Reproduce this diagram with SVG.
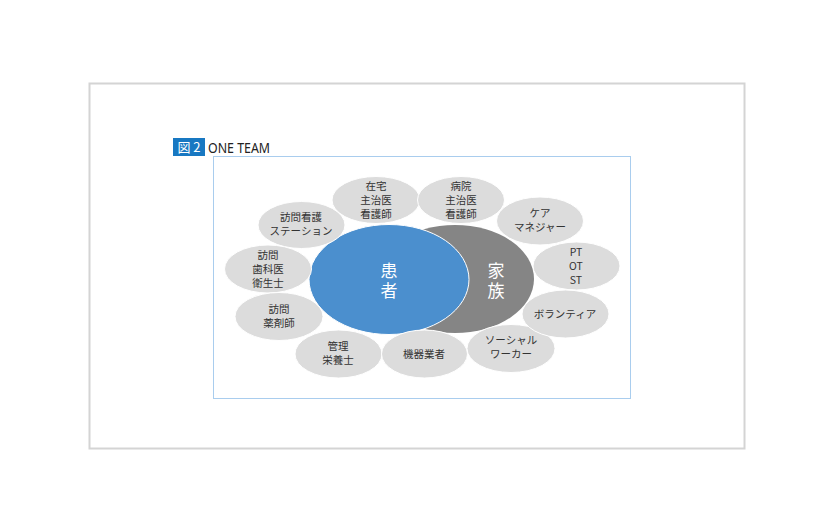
<svg xmlns="http://www.w3.org/2000/svg" width="834" height="532" viewBox="0 0 834 532">
<style>
.s{fill:#dcdcdc;stroke:#ffffff;stroke-width:1}
.t{font-family:"Noto Sans CJK JP","Noto Sans",sans-serif;font-size:10.5px;fill:#333333;text-anchor:middle}
.b{font-family:"Noto Sans CJK JP","Noto Sans",sans-serif;font-size:17px;fill:#ffffff;text-anchor:middle}
</style>
<rect x="0" y="0" width="834" height="532" fill="#ffffff"/>
<rect x="89.5" y="83.5" width="655" height="365" fill="#ffffff" stroke="#d4d4d4" stroke-width="2"/>
<g id="title">
<rect x="173" y="138" width="32" height="18" fill="#1878c2"/>
<text x="189" y="152" font-family="'Noto Sans CJK JP','Noto Sans',sans-serif" font-size="13" fill="#ffffff" text-anchor="middle">図 2</text>
<text x="208" y="152.5" font-family="'Noto Sans','Liberation Sans',sans-serif" font-size="13.5" fill="#222222" textLength="62" lengthAdjust="spacingAndGlyphs">ONE TEAM</text>
</g>
<rect x="213.5" y="156.5" width="417" height="242" fill="#ffffff" stroke="#a9cdee" stroke-width="1"/>
<g id="connectors"></g>
<g id="family"><ellipse cx="455" cy="279" rx="79" ry="54" fill="#858585"/></g>
<g id="patient"><ellipse cx="389" cy="279.5" rx="80" ry="55" fill="#4b8fce" stroke="#ffffff" stroke-width="1"/>
<text class="b" x="389" y="277">患</text><text class="b" x="389" y="297">者</text></g>
<g id="family-label"><text class="b" x="496" y="277">家</text><text class="b" x="496" y="297">族</text></g>
<g id="n-zaitaku"><ellipse class="s" cx="376" cy="200" rx="44" ry="23.5"/>
<text class="t" x="376" y="190">在宅</text><text class="t" x="376" y="204">主治医</text><text class="t" x="376" y="218">看護師</text></g>
<g id="n-byoin"><ellipse class="s" cx="461" cy="200" rx="43.5" ry="23.5"/>
<text class="t" x="461" y="190">病院</text><text class="t" x="461" y="204">主治医</text><text class="t" x="461" y="218">看護師</text></g>
<g id="n-houmonkango"><ellipse class="s" cx="301.5" cy="225" rx="43.5" ry="23.5"/>
<text class="t" x="301" y="221">訪問看護</text><text class="t" x="301" y="235">ステーション</text></g>
<g id="n-caremanager"><ellipse class="s" cx="540" cy="221" rx="43.5" ry="24"/>
<text class="t" x="540" y="217">ケア</text><text class="t" x="540" y="231">マネジャー</text></g>
<g id="n-ptotst"><ellipse class="s" cx="576.5" cy="266" rx="43.5" ry="24"/>
<text class="t" x="576" y="256">PT</text><text class="t" x="576" y="270">OT</text><text class="t" x="576" y="284">ST</text></g>
<g id="n-shika"><ellipse class="s" cx="268" cy="269" rx="43.5" ry="24"/>
<text class="t" x="268" y="259">訪問</text><text class="t" x="268" y="273">歯科医</text><text class="t" x="268" y="287">衛生士</text></g>
<g id="n-yakuzaishi"><ellipse class="s" cx="279" cy="316.5" rx="44" ry="24"/>
<text class="t" x="279" y="313">訪問</text><text class="t" x="279" y="327">薬剤師</text></g>
<g id="n-eiyoushi"><ellipse class="s" cx="338.5" cy="354" rx="43.5" ry="24"/>
<text class="t" x="338" y="350">管理</text><text class="t" x="338" y="364">栄養士</text></g>
<g id="n-kiki"><ellipse class="s" cx="424.5" cy="354" rx="43" ry="24"/>
<text class="t" x="424" y="358">機器業者</text></g>
<g id="n-social"><ellipse class="s" cx="511" cy="348.5" rx="44" ry="24"/>
<text class="t" x="511" y="344">ソーシャル</text><text class="t" x="511" y="358">ワーカー</text></g>
<g id="n-volunteer"><ellipse class="s" cx="565.5" cy="314" rx="43.5" ry="24"/>
<text class="t" x="565" y="318">ボランティア</text></g>
</svg>
